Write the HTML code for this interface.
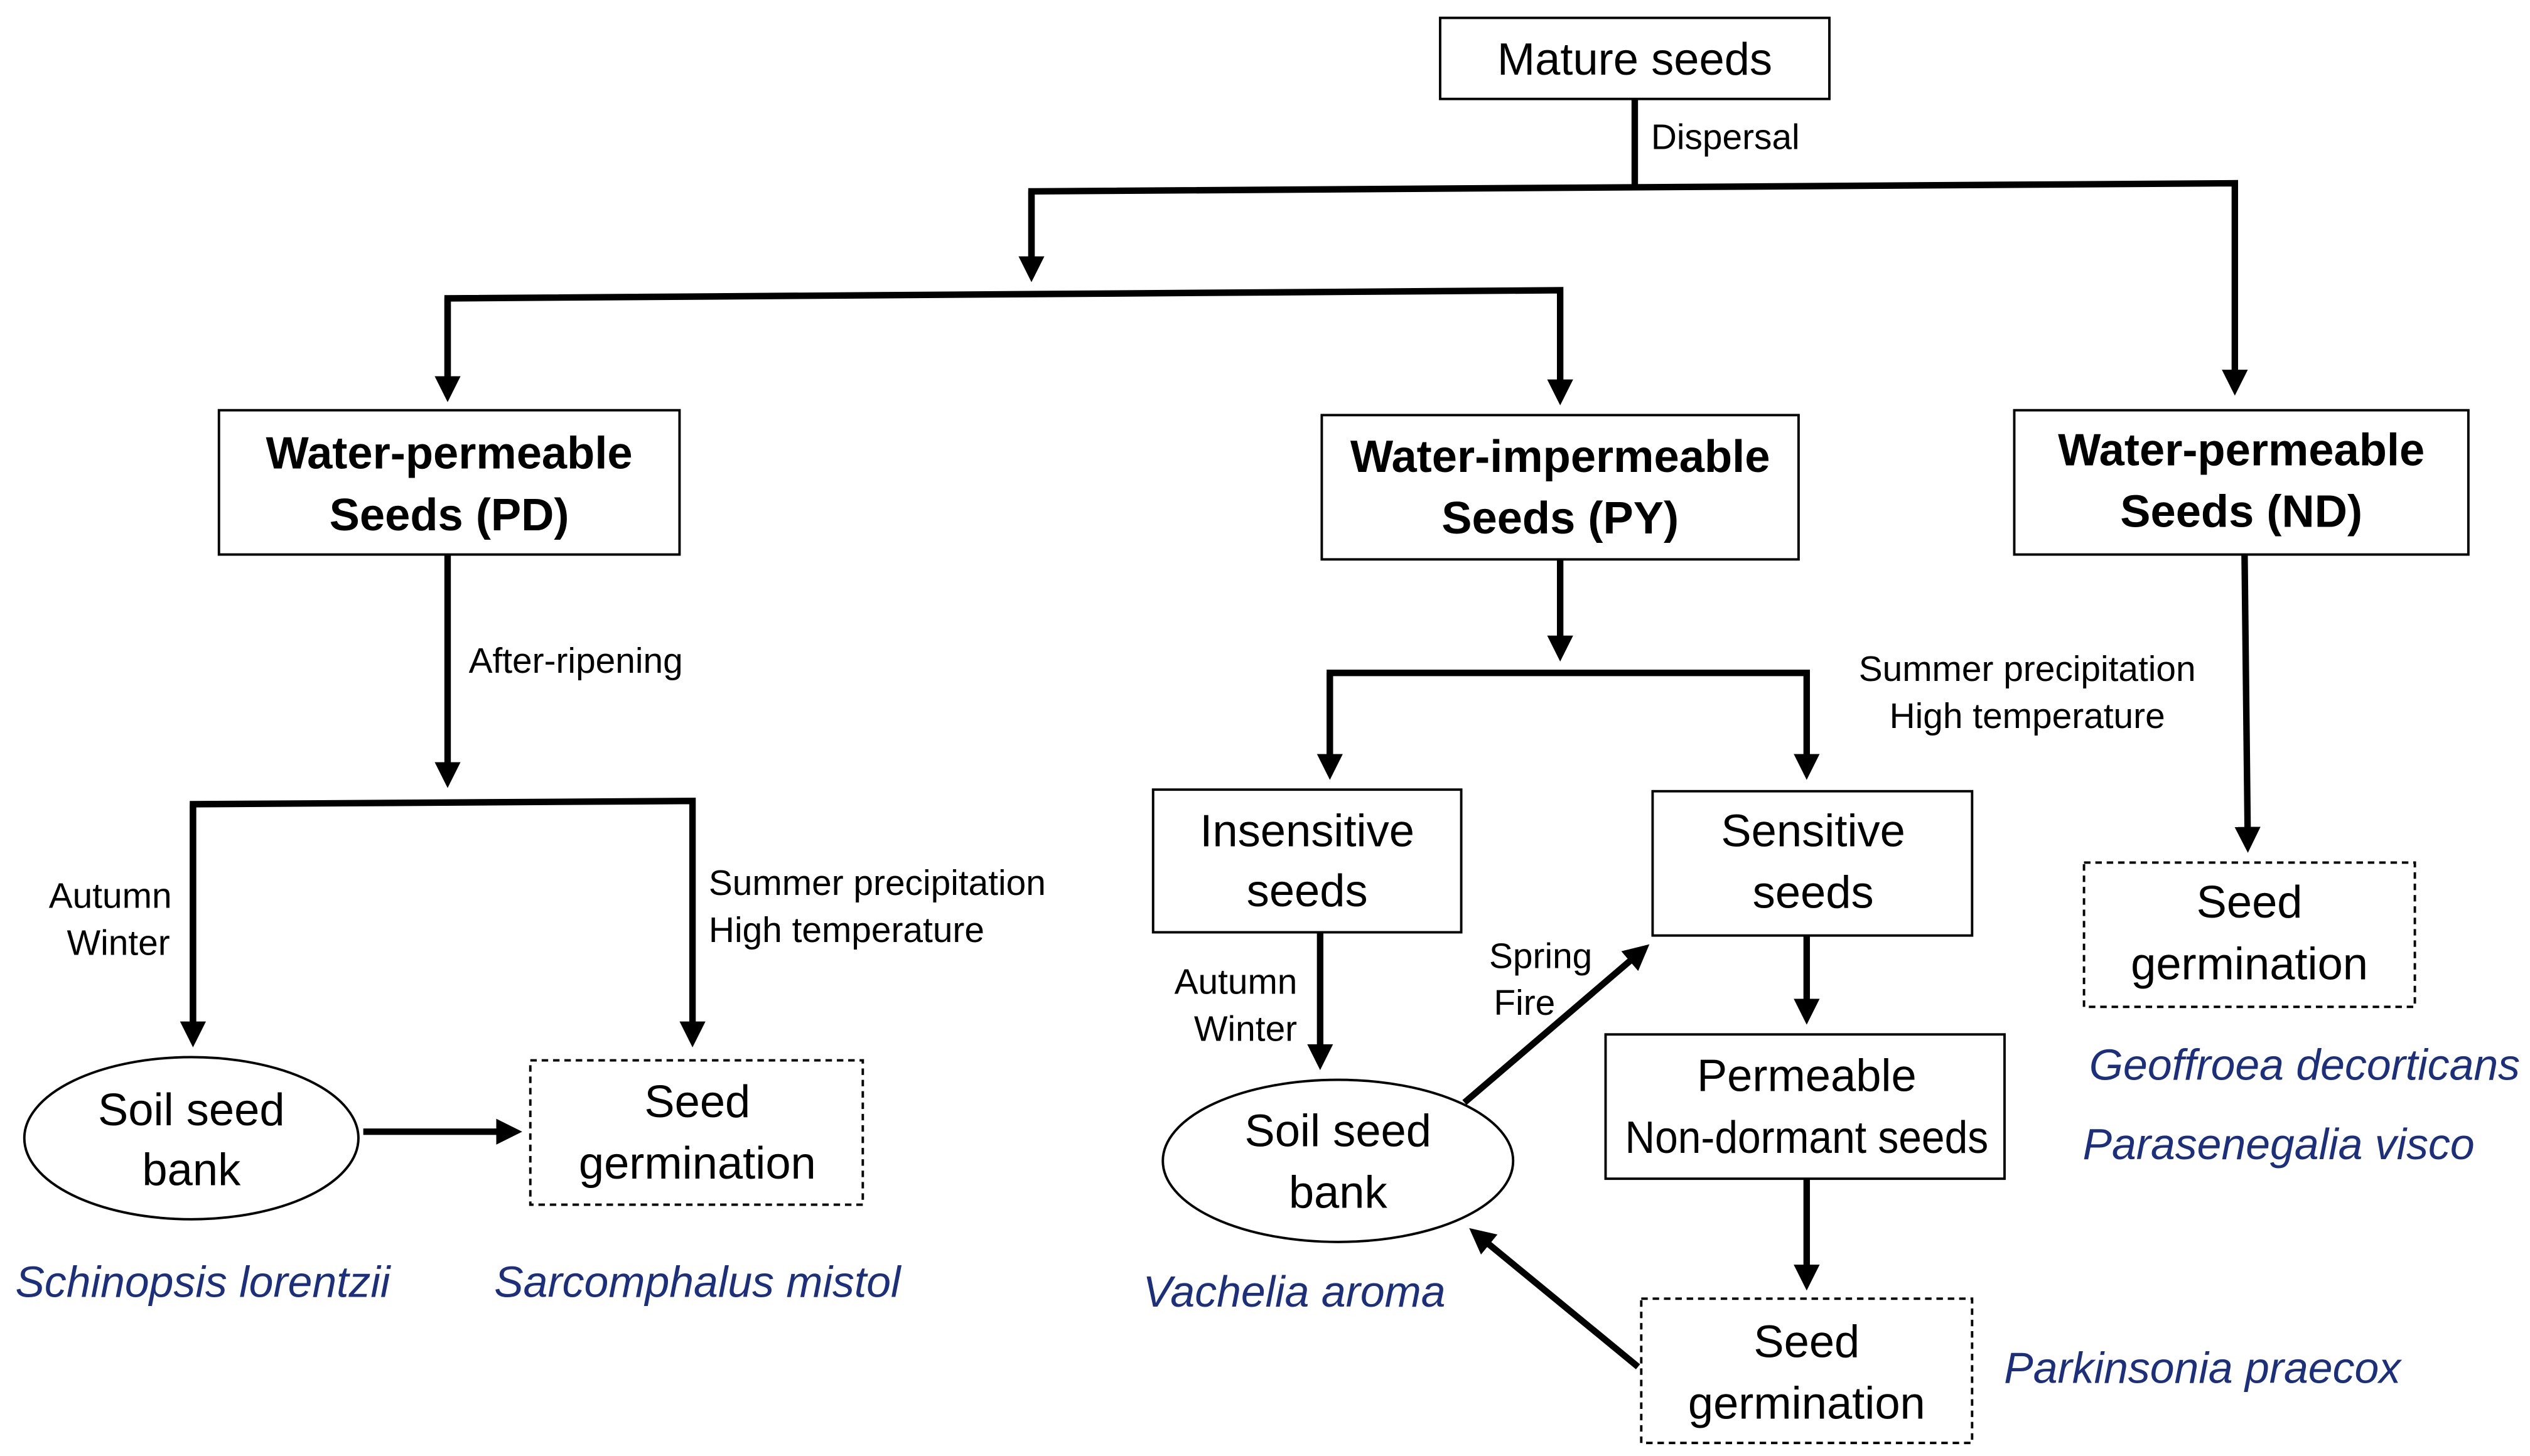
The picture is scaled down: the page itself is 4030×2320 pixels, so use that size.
<!DOCTYPE html>
<html><head><meta charset="utf-8"><style>
html,body{margin:0;padding:0;background:#fff;}
svg{display:block;}
text{font-family:"Liberation Sans",sans-serif;fill:#000;}
.b{font-size:28px;text-anchor:middle;}
.bb{font-size:28px;font-weight:bold;text-anchor:middle;}
.s{font-size:22px;}
.sm{font-size:22px;text-anchor:middle;}
.sp{font-size:27px;font-style:italic;fill:#1b2f7c;text-anchor:middle;}
</style></head><body>
<svg width="4030" height="2320" viewBox="0 0 1560 898" xmlns="http://www.w3.org/2000/svg">
<defs><marker id="a" markerWidth="4" markerHeight="4" refX="3" refY="2" orient="auto" markerUnits="strokeWidth"><path d="M0,0 L4,2 L0,4 z" fill="#000"/></marker></defs>
<g fill="none" stroke="#000" stroke-width="1.5">
<rect x="888" y="11" width="240" height="50"/>
<rect x="135" y="253" width="284" height="89"/>
<rect x="815" y="256" width="294" height="89"/>
<rect x="1242" y="253" width="280" height="89"/>
<rect x="711" y="487" width="190" height="88"/>
<rect x="1019" y="488" width="197" height="89"/>
<rect x="990" y="638" width="246" height="89"/>
<ellipse cx="118" cy="702" rx="103" ry="50"/>
<ellipse cx="825" cy="716" rx="108" ry="50"/>
<g stroke-dasharray="4,3">
<rect x="327" y="654" width="205" height="89"/>
<rect x="1012" y="801" width="204" height="89"/>
<rect x="1285" y="532" width="204" height="89"/>
</g>
</g>
<g fill="none" stroke="#000" stroke-width="4">
<polyline points="1008,61 1008,114"/>
<polyline points="636,170 636,118 1378,113 1378,240" marker-end="url(#a)"/>
<line x1="636" y1="118" x2="636" y2="170" marker-end="url(#a)"/>
<polyline points="276,244 276,184 962,179 962,246" marker-end="url(#a)"/>
<line x1="276" y1="184" x2="276" y2="244" marker-end="url(#a)"/>
<line x1="276" y1="342" x2="276" y2="482" marker-end="url(#a)"/>
<polyline points="119,642 119,496 427,494 427,642" marker-end="url(#a)"/>
<line x1="119" y1="496" x2="119" y2="642" marker-end="url(#a)"/>
<line x1="224" y1="698" x2="318" y2="698" marker-end="url(#a)"/>
<line x1="962" y1="345" x2="962" y2="404" marker-end="url(#a)"/>
<polyline points="820,477 820,415 1114,415 1114,477" marker-end="url(#a)"/>
<line x1="820" y1="415" x2="820" y2="477" marker-end="url(#a)"/>
<line x1="814" y1="575" x2="814" y2="656" marker-end="url(#a)"/>
<line x1="903" y1="680" x2="1014" y2="585" marker-end="url(#a)"/>
<line x1="1114" y1="577" x2="1114" y2="628" marker-end="url(#a)"/>
<line x1="1114" y1="727" x2="1114" y2="792" marker-end="url(#a)"/>
<line x1="1010" y1="843" x2="909" y2="760" marker-end="url(#a)"/>
<line x1="1384" y1="342" x2="1386" y2="522" marker-end="url(#a)"/>
</g>
<text class="b" x="1008" y="46">Mature seeds</text>
<text class="s" x="1018" y="92">Dispersal</text>
<text class="bb" x="277" y="289">Water-permeable</text>
<text class="bb" x="277" y="327">Seeds (PD)</text>
<text class="bb" x="962" y="291">Water-impermeable</text>
<text class="bb" x="962" y="329">Seeds (PY)</text>
<text class="bb" x="1382" y="287">Water-permeable</text>
<text class="bb" x="1382" y="325">Seeds (ND)</text>
<text class="s" x="289" y="415">After-ripening</text>
<text class="sm" x="68" y="560">Autumn</text>
<text class="sm" x="73" y="589">Winter</text>
<text class="s" x="437" y="552">Summer precipitation</text>
<text class="s" x="437" y="581">High temperature</text>
<text class="b" x="118" y="694">Soil seed</text>
<text class="b" x="118" y="731">bank</text>
<text class="b" x="430" y="689">Seed</text>
<text class="b" x="430" y="727">germination</text>
<text class="sp" x="125" y="800">Schinopsis lorentzii</text>
<text class="sp" x="430" y="800">Sarcomphalus mistol</text>
<text class="sm" x="1250" y="420">Summer precipitation</text>
<text class="sm" x="1250" y="449">High temperature</text>
<text class="b" x="806" y="522">Insensitive</text>
<text class="b" x="806" y="559">seeds</text>
<text class="b" x="1118" y="522">Sensitive</text>
<text class="b" x="1118" y="560">seeds</text>
<text class="sm" x="762" y="613">Autumn</text>
<text class="sm" x="768" y="642">Winter</text>
<text class="sm" x="950" y="597">Spring</text>
<text class="sm" x="940" y="626">Fire</text>
<text class="b" x="825" y="707">Soil seed</text>
<text class="b" x="825" y="745">bank</text>
<text class="b" x="1114" y="673">Permeable</text>
<text class="b" x="1114" y="711" textLength="224" lengthAdjust="spacingAndGlyphs">Non-dormant seeds</text>
<text class="b" x="1114" y="837">Seed</text>
<text class="b" x="1114" y="875">germination</text>
<text class="sp" x="798" y="806">Vachelia aroma</text>
<text class="sp" x="1358" y="853">Parkinsonia praecox</text>
<text class="b" x="1387" y="566">Seed</text>
<text class="b" x="1387" y="604">germination</text>
<text class="sp" x="1421" y="666">Geoffroea decorticans</text>
<text class="sp" x="1405" y="715">Parasenegalia visco</text>
</svg>
</body></html>
